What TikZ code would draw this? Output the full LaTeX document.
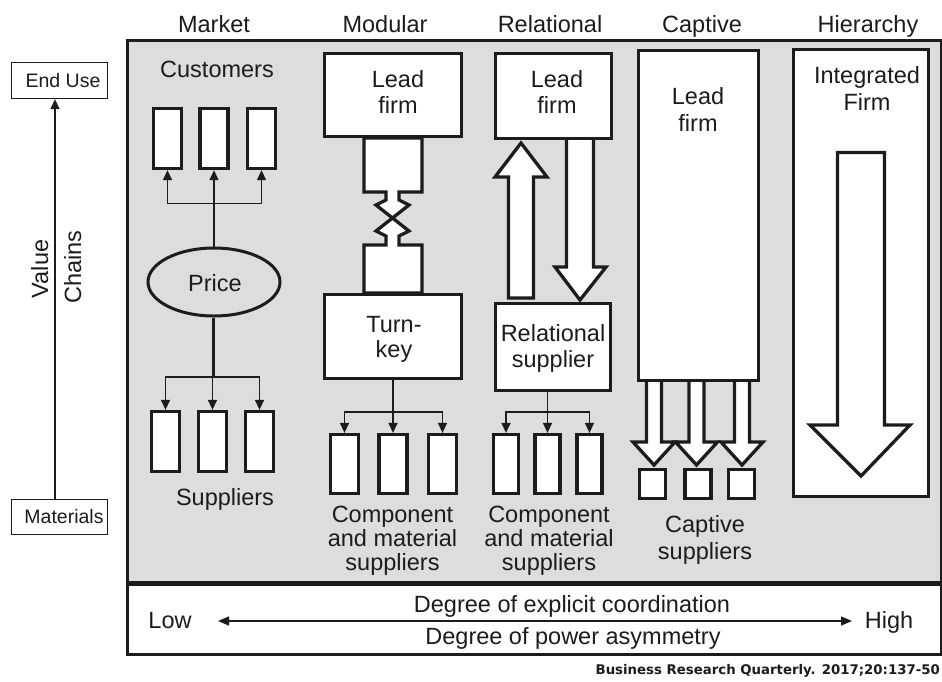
\documentclass[tikz,border=0pt]{standalone}
\usepackage{fontspec}
\setmainfont{Liberation Sans}
\newfontfamily\citefont{DejaVu Sans}
\usetikzlibrary{arrows.meta,shapes.geometric,calc}
\definecolor{panelgrey}{RGB}{221,221,221}
\definecolor{ink}{RGB}{28,28,28}
\begin{document}
\begin{tikzpicture}[x=1pt,y=-1pt,
  txt/.style={font=\fontsize{23.5}{26}\selectfont, inner sep=0pt, text=ink, align=center},
  lbl/.style={font=\fontsize{19.5}{22}\selectfont, inner sep=0pt, text=ink},
  box/.style={draw=ink, line width=3.3pt, fill=white, inner sep=0pt},
  thinbox/.style={draw=ink, line width=1.3pt, fill=white, inner sep=0pt},
  conn/.style={draw=ink, line width=1.3pt, -{Triangle[width=9pt,length=10pt]}},
  blockarrow/.style={draw=ink, line width=3.3pt, fill=white, line join=miter, miter limit=4}]
\useasboundingbox (0,0) rectangle (942,681);
\fill[white] (0,0) rectangle (942,681);

% ---- main panel and bottom scale bar
\draw[ink, line width=3pt, fill=panelgrey] (127,40) rectangle (941,583);
\draw[ink, line width=3pt, fill=white] (127,583) rectangle (941,654);
\draw[ink, line width=5pt] (127,583) -- (941,583);

% ---- column titles
\node[txt, anchor=base] (tmarket) at (214,32) {Market};
\node[txt, anchor=base] (tmodular) at (385,32) {Modular};
\node[txt, anchor=base] (trelational) at (550,32) {Relational};
\node[txt, anchor=base] (tcaptive) at (702,32) {Captive};
\node[txt, anchor=base] (thierarchy) at (868,32) {Hierarchy};

% ---- value chain axis
\node[thinbox, minimum width=96pt, minimum height=36pt] (eu) at (59.5,80.5) {};
\node[lbl, anchor=base] (eut) at (63,87) {End Use};
\node[thinbox, minimum width=96pt, minimum height=35pt] (ma) at (59.5,517) {};
\node[lbl, anchor=base] (mat) at (64,523) {Materials};
\draw[conn] ($(ma.north)+(-4.5,0)$) -- ($(eu.south)+(-4.5,0)$);
\node[txt, anchor=base, rotate=90] (val) at (48,269) {Value};
\node[txt, anchor=base, rotate=90] (chn) at (81,267) {Chains};

% ---- market
\node[txt, anchor=base] (cust) at (217,77) {Customers};
\node[box, minimum width=28pt, minimum height=60pt] (cu1) at (167.5,138.5) {};
\node[box, minimum width=28pt, minimum height=60pt] (cu2) at (214,138.5) {};
\node[box, minimum width=28pt, minimum height=60pt] (cu3) at (261.5,138.5) {};
\node[draw=ink, line width=3pt, fill=panelgrey, ellipse, minimum width=132pt, minimum height=68pt, inner sep=0pt] (price) at (214,282) {};
\node[txt, anchor=base] (pricet) at (215,291) {Price};
\draw[conn] (price.north) |- ($(cu1.south)+(0,33)$) -- (cu1.south);
\draw[conn] (price.north) -- (cu2.south);
\draw[conn] (price.north) |- ($(cu3.south)+(0,33)$) -- (cu3.south);
\node[box, minimum width=28pt, minimum height=60pt] (su1) at (165.5,441.5) {};
\node[box, minimum width=28pt, minimum height=60pt] (su2) at (212.5,441.5) {};
\node[box, minimum width=28pt, minimum height=60pt] (su3) at (259.5,441.5) {};
\draw[conn] (price.south) |- ($(su1.north)+(0,-33)$) -- (su1.north);
\draw[conn] (price.south -| su2.north) -- (su2.north);
\draw[conn] (price.south) |- ($(su3.north)+(0,-33)$) -- (su3.north);
\node[txt, anchor=base] (supt) at (225,505) {Suppliers};

% ---- modular: interlocking connector between lead firm and turn-key supplier
\draw[blockarrow] (364,138) -- (364,192) -- (386,192) -- (386,200) -- (376,205) -- (392.5,218)
  -- (376,231) -- (386,236) -- (386,245) -- (364,245) -- (364,293) -- (422,293) -- (422,245)
  -- (399,245) -- (399,236) -- (409,231) -- (392.5,218) -- (409,205) -- (399,200) -- (399,192)
  -- (422,192) -- (422,138) -- cycle;
\node[box, minimum width=137pt, minimum height=83pt] (mlead) at (393,95) {};
\node[txt, anchor=base] (mleadt) at (398,113) {Lead\\firm};
\node[box, minimum width=137pt, minimum height=84pt] (tk) at (393,336.5) {};
\node[txt, anchor=base, font=\fontsize{23.5}{25}\selectfont] (tkt) at (394,357) {Turn-\\key};
\node[box, minimum width=28pt, minimum height=59pt] (mc1) at (344.5,464) {};
\node[box, minimum width=28pt, minimum height=59pt] (mc2) at (393,464) {};
\node[box, minimum width=28pt, minimum height=59pt] (mc3) at (442.5,464) {};
\draw[conn] (tk.south) |- ($(mc1.north)+(0,-21)$) -- (mc1.north);
\draw[conn] (tk.south -| mc2.north) -- (mc2.north);
\draw[conn] (tk.south) |- ($(mc3.north)+(0,-21)$) -- (mc3.north);
\node[txt, anchor=base, font=\fontsize{23.5}{24}\selectfont] (mcomp) at (392.5,570) {Component\\and material\\suppliers};

% ---- relational: two-way block arrows
\draw[blockarrow] (508.5,298) -- (508.5,177) -- (495,177) -- (521,143) -- (547,177) -- (533.5,177) -- (533.5,298) -- cycle;
\draw[blockarrow] (566.5,140) -- (566.5,267) -- (555,267) -- (580,300) -- (606,267) -- (593.5,267) -- (593.5,140);
\node[box, minimum width=116pt, minimum height=85pt] (rlead) at (553.5,96) {};
\node[txt, anchor=base] (rleadt) at (557,113) {Lead\\firm};
\node[box, minimum width=115pt, minimum height=87pt] (rs) at (553,347) {};
\node[txt, anchor=base] (rst) at (553,367) {Relational\\supplier};
\node[box, minimum width=25pt, minimum height=59pt] (rc1) at (506,464) {};
\node[box, minimum width=25pt, minimum height=59pt] (rc2) at (547.5,464) {};
\node[box, minimum width=25pt, minimum height=59pt] (rc3) at (589.5,464) {};
\draw[conn] (rc2.north |- rs.south) |- ($(rc1.north)+(0,-21)$) -- (rc1.north);
\draw[conn] (rc2.north |- rs.south) -- (rc2.north);
\draw[conn] (rc2.north |- rs.south) |- ($(rc3.north)+(0,-21)$) -- (rc3.north);
\node[txt, anchor=base, font=\fontsize{23.5}{24}\selectfont] (rcomp) at (549,570) {Component\\and material\\suppliers};

% ---- captive: one-way block arrows to tied suppliers
\foreach \c in {654,696.5,742}{
  \draw[blockarrow] (\c-7.5,382) -- (\c-7.5,442) -- (\c-21,442) -- (\c,465) -- (\c+21,442) -- (\c+7.5,442) -- (\c+7.5,382);
}
\node[box, minimum width=120pt, minimum height=330pt] (clead) at (698.5,215.5) {};
\node[txt, anchor=base, font=\fontsize{23.5}{27}\selectfont] (cleadt) at (698,131) {Lead\\firm};
\node[box, minimum width=26pt, minimum height=29pt] (cs1) at (652.5,484) {};
\node[box, minimum width=26pt, minimum height=29pt] (cs2) at (698,484) {};
\node[box, minimum width=26pt, minimum height=29pt] (cs3) at (741.5,484) {};
\node[txt, anchor=base, font=\fontsize{23.5}{27}\selectfont] (cst) at (705,559) {Captive\\suppliers};

% ---- hierarchy
\node[box, minimum width=135pt, minimum height=447pt] (hier) at (861,273) {};
\node[txt, anchor=base, font=\fontsize{23.5}{27}\selectfont] (hiert) at (867,110) {Integrated\\Firm};
\draw[blockarrow] (837.5,152.5) -- (837.5,425) -- (810,425) -- (861,476) -- (910,425) -- (884.5,425) -- (884.5,152.5) -- cycle;

% ---- coordination scale
\coordinate (lowend) at (218,621);
\coordinate (highend) at (852,621);
\draw[ink, line width=1.3pt, {Triangle[width=9pt,length=11pt]}-{Triangle[width=9pt,length=11pt]}] (lowend) -- (highend);
\node[txt, anchor=base] (low) at (170,628) {Low};
\node[txt, anchor=base] (high) at (889,628) {High};
\node[txt, anchor=base] (coord) at (572,612) {Degree of explicit coordination};
\node[txt, anchor=base] (power) at (573,644) {Degree of power asymmetry};

\node[anchor=base east, inner sep=0pt, text=ink, font=\citefont\bfseries\fontsize{13.3}{15}\selectfont] (cite) at (940,674) {Business Research Quarterly. 2017;20:137-50};
\end{tikzpicture}
\end{document}
